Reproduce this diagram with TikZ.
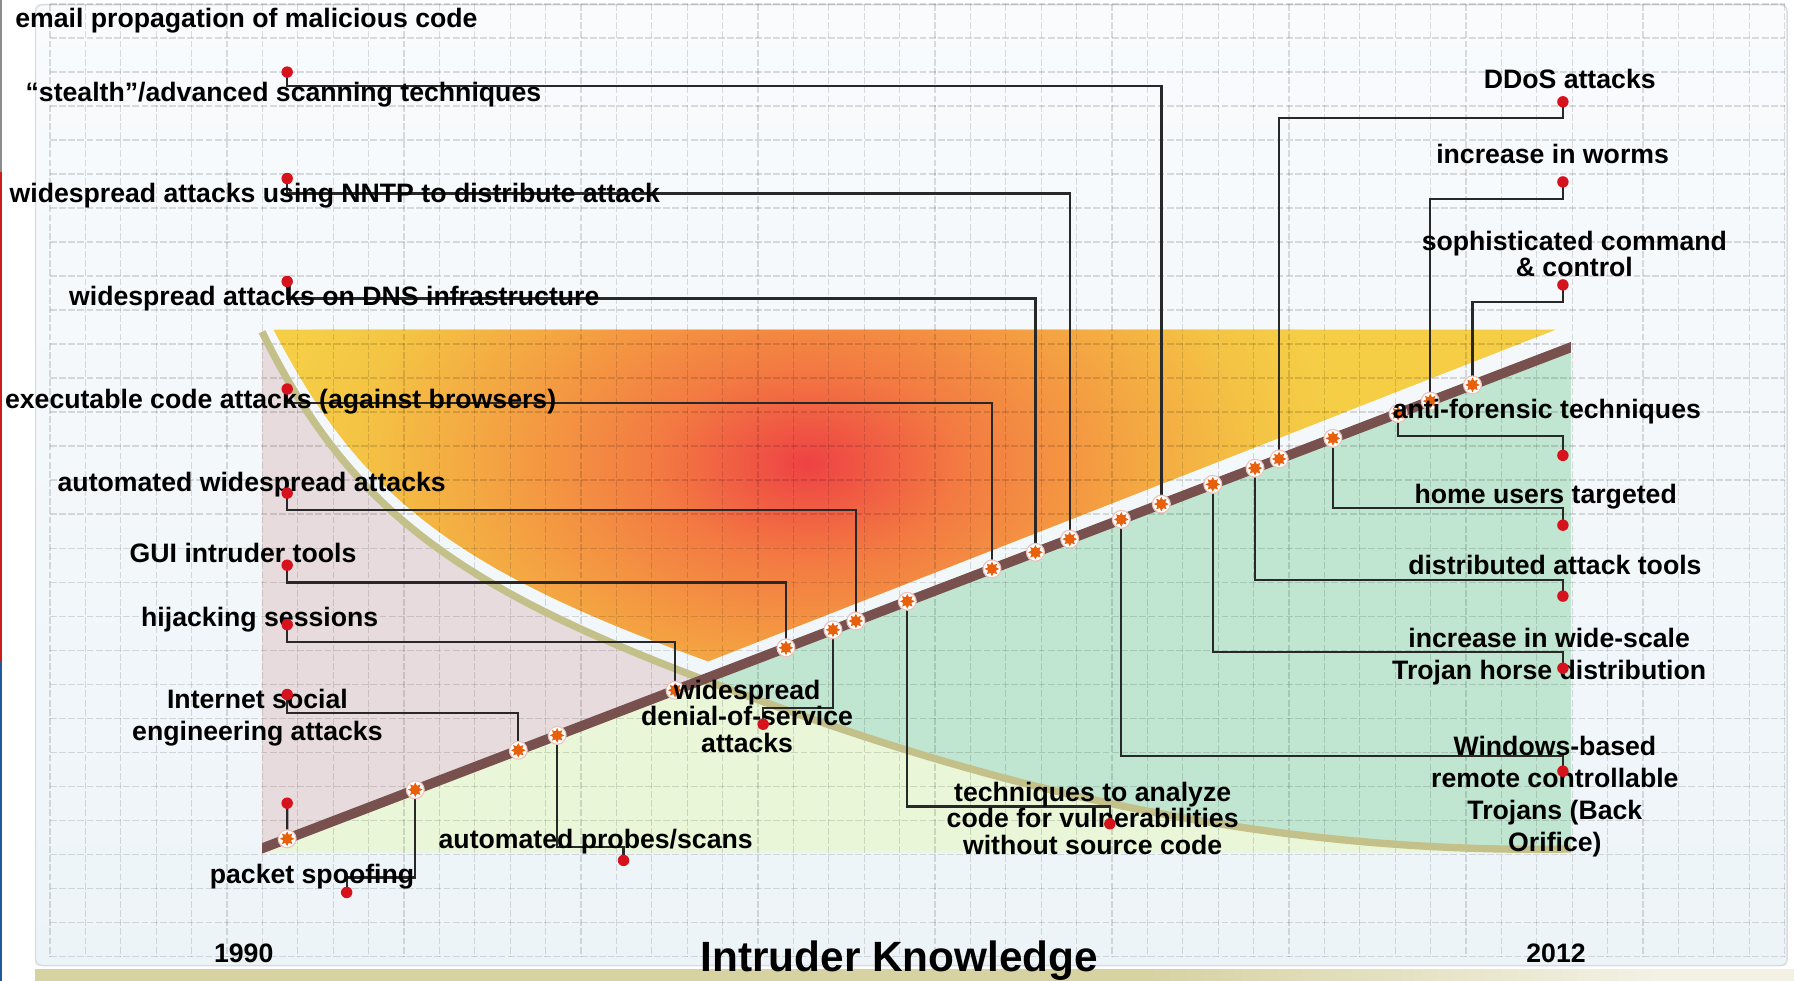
\documentclass[tikz,border=0pt]{standalone}
\usepackage{fontspec}
\setmainfont{Liberation Sans}
\usetikzlibrary{shapes.geometric}

\definecolor{edgegrey}{RGB}{140,140,140}
\definecolor{edgered}{RGB}{200,30,30}
\definecolor{edgeblue}{RGB}{30,90,160}
\definecolor{panelhi}{RGB}{249,251,253}
\definecolor{panello}{RGB}{237,244,248}
\definecolor{panelrim}{RGB}{215,220,225}
\definecolor{bandkhaki}{RGB}{214,210,162}
\definecolor{bandpale}{RGB}{243,241,228}
\definecolor{hotred}{RGB}{238,66,68}
\definecolor{hotorange}{RGB}{243,122,66}
\definecolor{hotamber}{RGB}{244,165,66}
\definecolor{hotgold}{RGB}{244,196,68}
\definecolor{hotyellow}{RGB}{245,206,70}
\definecolor{limefill}{RGB}{233,246,215}
\definecolor{seagreen}{RGB}{192,229,209}
\definecolor{mauve}{RGB}{231,219,221}
\definecolor{knowolive}{RGB}{196,192,138}
\definecolor{sophbrown}{RGB}{120,80,78}
\definecolor{dotred}{RGB}{214,18,28}
\definecolor{studorange}{RGB}{232,96,12}
\definecolor{studrim}{RGB}{235,195,190}
\definecolor{wireblack}{RGB}{40,40,40}

\pgfdeclareradialshading{heat}{\pgfpoint{0bp}{0bp}}{color(0bp)=(hotred); color(7bp)=(hotorange); color(15bp)=(hotamber); color(21bp)=(hotgold); color(25bp)=(hotyellow); color(50bp)=(hotyellow)}

\pgfdeclarelayer{back}
\pgfdeclarelayer{wires}
\pgfdeclarelayer{front}
\pgfsetlayers{back,wires,main,front}

% intruder knowledge curve and the hot zone above it
\newcommand{\knowcurve}{(229,290) .. controls (304,442) and (395,511) .. (615,594) .. controls (785,658) and (1045,748) .. (1373,742)}
\newcommand{\heatzone}{(239,288) -- (1360,288) -- (619,578) .. controls (400,499) and (316,436) .. (239,288) -- cycle}

\begin{document}
\begin{tikzpicture}[x=0.5pt, y=-0.5pt,
  lbl/.style = {font=\fontsize{11.65}{14}\selectfont\bfseries, inner sep=0pt},
  lbltight/.style = {lbl, font=\fontsize{11.65}{11.6}\selectfont\bfseries},
  reddot/.style = {circle, fill=dotred, inner sep=0pt, minimum size=5pt},
  stud/.style = {circle, fill=white, draw=studrim, line width=0.5pt, inner sep=0pt, minimum size=7.8pt,
    path picture={\node[star, star points=8, star point ratio=1.7, fill=studorange, draw=none, inner sep=0pt, minimum size=6.4pt] at (path picture bounding box.center) {};}},
  wire/.style = {draw=wireblack, line width=1pt},
  gridline/.style = {black, opacity=0.13, line width=0.5pt, dash pattern=on 3pt off 1pt},
  knowline/.style = {draw=knowolive, line width=3.2pt},
  sophline/.style = {draw=sophbrown, line width=4.3pt}]
\useasboundingbox (0,0) rectangle (1568,857);

\coordinate (lnS) at (229,741.5);
\coordinate (lnE) at (1373,303.5);

\begin{pgfonlayer}{back}
% slide edge and panel
\fill[edgegrey] (0,0) rectangle (2,150);
\fill[edgered] (0,150) rectangle (2,579);
\fill[edgeblue] (0,579) rectangle (2,857);
\shade[top color=panelhi, bottom color=panello] (31,4) rectangle (1562,844);
\draw[panelrim, line width=0.6pt, rounded corners=3pt] (31,4) rectangle (1562,844);
\fill[bandkhaki] (31,847) rectangle (1000,857);
\shade[left color=bandkhaki, right color=bandpale] (1000,847) rectangle (1450,857);
\fill[bandpale] (1450,847) rectangle (1568,857);

% hot zone
\fill[hotyellow] \heatzone;
\begin{scope}
  \clip \heatzone;
  \shade[shading=heat] (706,405) ellipse [x radius=470, y radius=300];
\end{scope}

% regions under and around the curve
\fill[limefill] (lnS) -- (lnE) -- (1373,745) -- (229,745) -- cycle;
\begin{scope}
  \clip \knowcurve -- (1373,0) -- (229,0) -- cycle;
  \fill[seagreen] (lnS) -- (lnE) -- (1373,745) -- (229,745) -- cycle;
\end{scope}
\begin{scope}
  \clip \knowcurve -- (1373,745) -- (229,745) -- cycle;
  \fill[mauve] (lnS) -- (lnE) -- (1373,280) -- (229,280) -- cycle;
\end{scope}

% grid
\foreach \i in {0,...,49}
  \draw[gridline] ({43.7+30.94*\i},3.5) -- ({43.7+30.94*\i},835.7);
\foreach \j in {0,...,28}
  \draw[gridline] (43.7,{3.5+29.72*\j}) -- (1559.8,{3.5+29.72*\j});

\draw[knowline] \knowcurve;
\begin{scope}
  \clip (229,0) rectangle (1373,857);
  \draw[sophline, shorten <=-4pt, shorten >=-4pt] (lnS) -- (lnE);
\end{scope}
\end{pgfonlayer}

% milestones on the sophistication line
\path (lnS) -- (lnE)
  node[stud, pos=0.0192] (mEmail) {}
  node[stud, pos=0.1171] (mSpoof) {}
  node[stud, pos=0.1958] (mSocial) {}
  node[stud, pos=0.2255] (mProbe) {}
  node[stud, pos=0.3156] (mHijack) {}
  node[stud, pos=0.4003] (mGui) {}
  node[stud, pos=0.4362] (mDos) {}
  node[stud, pos=0.4537] (mAuto) {}
  node[stud, pos=0.4930] (mAnalyze) {}
  node[stud, pos=0.5577] (mExec) {}
  node[stud, pos=0.5909] (mDns) {}
  node[stud, pos=0.6171] (mNntp) {}
  node[stud, pos=0.6565] (mWin) {}
  node[stud, pos=0.6871] (mStealth) {}
  node[stud, pos=0.7264] (mTrojan) {}
  node[stud, pos=0.7587] (mDist) {}
  node[stud, pos=0.7771] (mDdos) {}
  node[stud, pos=0.8182] (mHome) {}
  node[stud, pos=0.8680] (mForensic) {}
  node[stud, pos=0.8925] (mWorm) {}
  node[stud, pos=0.9248] (mCmd) {};

\begin{pgfonlayer}{front}
\node[reddot] (dStealth) at (251,63) {};
\node[reddot] (dNntp) at (251,156) {};
\node[reddot] (dDns) at (251,246) {};
\node[reddot] (dExec) at (251,340) {};
\node[reddot] (dAuto) at (251,431) {};
\node[reddot] (dGui) at (251,494) {};
\node[reddot] (dHijack) at (251,546) {};
\node[reddot] (dSocial) at (251,607) {};
\node[reddot] (dEmail) at (251,702) {};
\node[reddot] (dSpoof) at (303,780) {};
\node[reddot] (dProbe) at (545,752) {};
\node[reddot] (dDos) at (667,633) {};
\node[reddot] (dAnalyze) at (970,720) {};
\node[reddot] (dWin) at (1366,674) {};
\node[reddot] (dTrojan) at (1366,584) {};
\node[reddot] (dDist) at (1366,521) {};
\node[reddot] (dHome) at (1366,459) {};
\node[reddot] (dForensic) at (1366,398) {};
\node[reddot] (dCmd) at (1366,249) {};
\node[reddot] (dWorm) at (1366,159) {};
\node[reddot] (dDdos) at (1366,89) {};
\end{pgfonlayer}

% leaders
\begin{pgfonlayer}{wires}
\draw[wire] (dStealth.center) -- ++(0,12) -| (mStealth.center);
\draw[wire] (dNntp.center) -- ++(0,13) -| (mNntp.center);
\draw[wire] (dDns.center) -- ++(0,15) -| (mDns.center);
\draw[wire] (dExec.center) -- ++(0,12) -| (mExec.center);
\draw[wire] (dAuto.center) -- ++(0,15) -| (mAuto.center);
\draw[wire] (dGui.center) -- ++(0,15) -| (mGui.center);
\draw[wire] (dHijack.center) -- ++(0,15) -| (mHijack.center);
\draw[wire] (dSocial.center) -- ++(0,16) -| (mSocial.center);
\draw[wire] (dEmail.center) -- (mEmail.center);
\draw[wire] (dSpoof.center) -- ++(0,-13) -| (mSpoof.center);
\draw[wire] (dProbe.center) -- ++(0,-12) -| (mProbe.center);
\draw[wire] (dDos.center) -- ++(0,-14) -| (mDos.center);
\draw[wire] (dAnalyze.center) -- ++(0,-15) -| (mAnalyze.center);
\draw[wire] (dWin.center) -- ++(0,-13) -| (mWin.center);
\draw[wire] (dTrojan.center) -- ++(0,-14) -| (mTrojan.center);
\draw[wire] (dDist.center) -- ++(0,-14) -| (mDist.center);
\draw[wire] (dHome.center) -- ++(0,-15) -| (mHome.center);
\draw[wire] (dForensic.center) -- ++(0,-17) -| (mForensic.center);
\draw[wire] (dCmd.center) -- ++(0,15) -| (mCmd.center);
\draw[wire] (dWorm.center) -- ++(0,15) -| (mWorm.center);
\draw[wire] (dDdos.center) -- ++(0,14) -| (mDdos.center);
\end{pgfonlayer}

% labels
\node[lbl, anchor=base west] (lEmail) at (13,24) {email propagation of malicious code};
\node[lbl, anchor=base west] (lStealth) at (22,89) {“stealth”/advanced scanning techniques};
\node[lbl, anchor=base west] (lNntp) at (8,177) {widespread attacks using NNTP to distribute attack};
\node[lbl, anchor=base west] (lDns) at (60,267) {widespread attacks on DNS infrastructure};
\node[lbl, anchor=base west] (lExec) at (4,357) {executable code attacks (against browsers)};
\node[lbl, anchor=base west] (lAuto) at (50,430) {automated widespread attacks};
\node[lbl, anchor=base west] (lGui) at (113,492) {GUI intruder tools};
\node[lbl, anchor=base west] (lHijack) at (123,548) {hijacking sessions};
\node[lbl, align=center] (lSocial) at (225,627) {Internet social\\engineering attacks};
\node[lbl, anchor=base west] (lSpoof) at (183,772) {packet spoofing};
\node[lbl, anchor=base west] (lProbe) at (383,742) {automated probes/scans};
\node[lbltight, align=center] (lDos) at (653,626) {widespread\\denial-of-service\\attacks};
\node[lbltight, align=center] (lAnalyze) at (955,715) {techniques to analyze\\code for vulnerabilities\\without source code};
\node[lbl, anchor=base] (lDdos) at (1372,77) {DDoS attacks};
\node[lbl, anchor=base] (lWorm) at (1357,143) {increase in worms};
\node[lbltight, align=center] (lCmd) at (1376,222) {sophisticated command\\\& control};
\node[lbl, anchor=base] (lForensic) at (1352,366) {anti-forensic techniques};
\node[lbl, anchor=base] (lHome) at (1351,440) {home users targeted};
\node[lbl, anchor=base] (lDist) at (1359,502) {distributed attack tools};
\node[lbl, align=center] (lTrojan) at (1354,574) {increase in wide-scale\\Trojan horse distribution};
\node[lbl, align=center] (lWin) at (1359,696) {Windows-based\\remote controllable\\Trojans (Back\\Orifice)};
\node[lbl, anchor=base] (yStart) at (213,841) {1990};
\node[lbl, anchor=base] (yEnd) at (1360,841) {2012};
\node[font=\fontsize{18.5}{22}\selectfont\bfseries, inner sep=0pt, anchor=base] (title) at (786,849) {Intruder Knowledge};
\end{tikzpicture}
\end{document}
